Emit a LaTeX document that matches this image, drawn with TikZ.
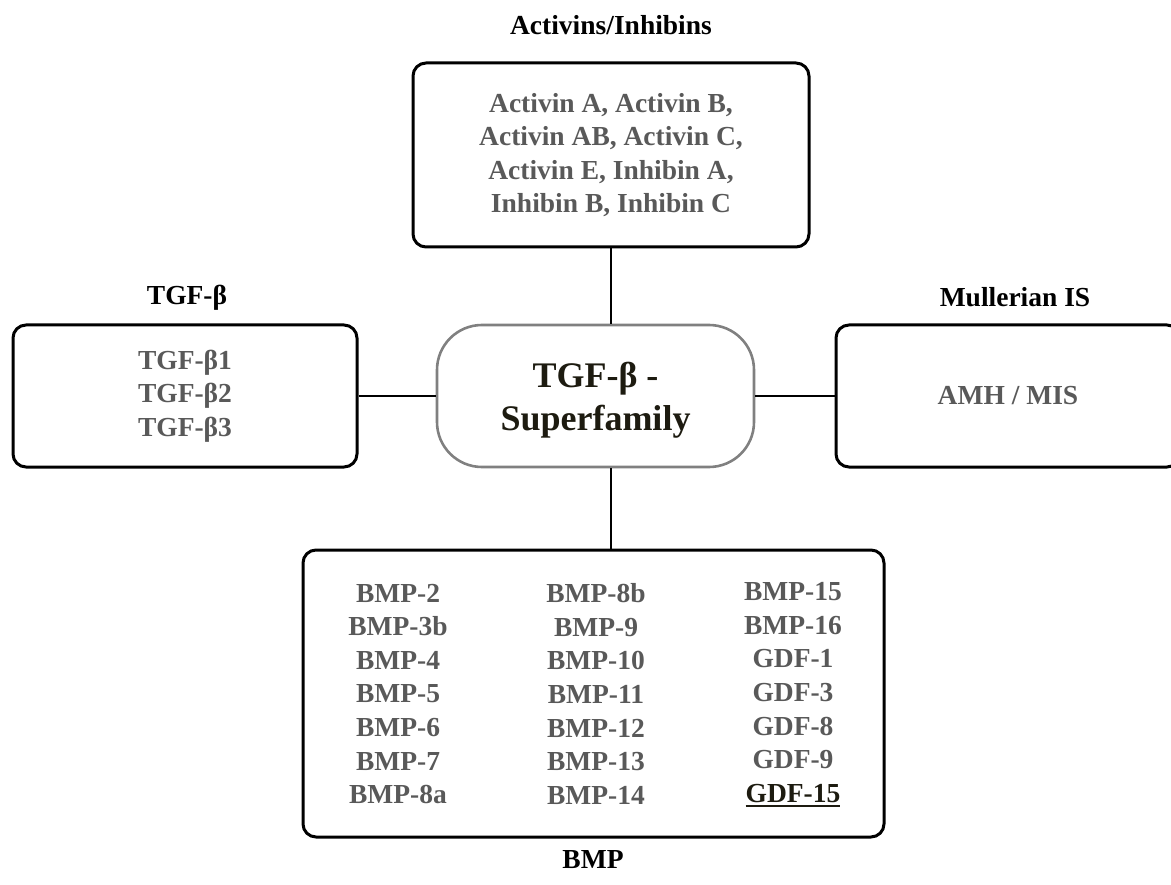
\documentclass[tikz,border=0pt]{standalone}
\usepackage{fontspec}
\setmainfont{Liberation Serif}
\usetikzlibrary{positioning}

\definecolor{itemgray}{RGB}{89,89,89}
\definecolor{hubtext}{RGB}{29,27,16}
\definecolor{hubline}{RGB}{128,128,128}

\newsavebox{\ulbox}
\newcommand{\ulword}[1]{\sbox{\ulbox}{#1}\makebox[0pt][l]{\rule[-5pt]{\wd\ulbox}{2.5pt}}\usebox{\ulbox}}

\begin{document}
\begin{tikzpicture}[
                    x=1pt, y=-1pt,
                    every node/.style={
                        align=center,
                        inner sep=0pt,
                        font=\fontsize{27.5}{33.6}\selectfont\bfseries
                    },
                    group/.style={
                        draw=black,
                        line width=3pt,
                        rounded corners=13pt,
                        text=itemgray
                    },
                    hub/.style={
                        draw=hubline,
                        line width=2.6pt,
                        rounded corners=45pt,
                        text=hubtext,
                        text depth=0pt,
                        minimum width=317pt,
                        minimum height=142pt,
                        font=\fontsize{36}{43}\selectfont\bfseries
                    },
                    title/.style={text=black},
                    link/.style={line width=1.5pt}
                ]
                    \useasboundingbox (0,0) rectangle (1171,885);
                    \clip (0,0) rectangle (1171,885);

                    \node[hub] (hub) at (595.5,396) {TGF-β -\\Superfamily};
                    \node[group, minimum width=396pt, minimum height=184pt] (act) at (611,155)
                        {Activin A, Activin B,\\Activin AB, Activin C,\\Activin E, Inhibin A,\\Inhibin B, Inhibin C};
                    \node[group, minimum width=344pt, minimum height=142pt] (tgf) at (185,396)
                        {TGF-β1\\TGF-β2\\TGF-β3};
                    \node[group, minimum width=344pt, minimum height=142pt] (mis) at (1008,396) {AMH / MIS};
                    \node[group, minimum width=581pt, minimum height=287pt] (bmp) at (593.5,693.5) {};

                    % BMP columns
                    \node[text=itemgray] (colA) at (398,694)
                        {BMP-2\\BMP-3b\\BMP-4\\BMP-5\\BMP-6\\BMP-7\\BMP-8a};
                    \node[text=itemgray] (colB) at (596,694)
                        {BMP-8b\\BMP-9\\BMP-10\\BMP-11\\BMP-12\\BMP-13\\BMP-14};
                    \node[text=itemgray] (colC) at (793,695)
                        {BMP-15\\BMP-16\\GDF-1\\GDF-3\\GDF-8\\GDF-9\\{\color{hubtext}\ulword{GDF-15}}};

                    % Titles
                    \node[title] (actT) at (611,25) {Activins/Inhibins};
                    \node[title] (tgfT) at (187,298) {TGF-β};
                    \node[title] (misT) at (1015,297) {Mullerian IS};
                    \node[title] (bmpT) at (593,860) {BMP};

                    % Edges
                    \draw[link] (act.south) -- (act.south |- hub.north);
                    \draw[link] (tgf.east) -- (hub.west);
                    \draw[link] (hub.east) -- (mis.west);
                    \draw[link] (hub.south -| act.south) -- (bmp.north -| act.south);
                \end{tikzpicture}
\end{document}
